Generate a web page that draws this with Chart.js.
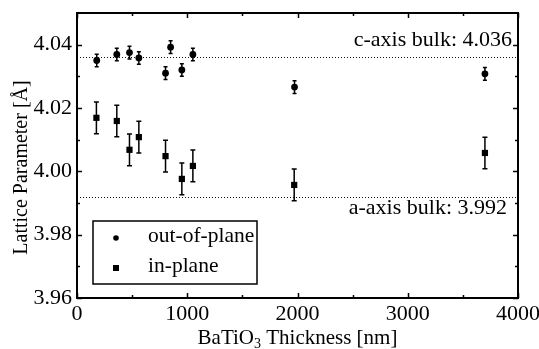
<!DOCTYPE html>
<html><head><meta charset="utf-8">
<script src="https://cdn.jsdelivr.net/npm/chart.js@4/dist/chart.umd.min.js"></script>
<style>html,body{margin:0;padding:0;background:#fff;}canvas{display:block;}</style>
</head><body>
<canvas id="c" width="539" height="349"></canvas>
<script>
// ---- data ----
const thicknessOut = [179, 361, 476, 561, 803, 849, 951, 1051, 1973, 3700];
const cOutOfPlane  = [4.0350, 4.0369, 4.0375, 4.0358, 4.0310, 4.0392, 4.0320, 4.0369, 4.0266, 4.0308];
const cErr         = [0.0020, 0.0020, 0.0020, 0.0020, 0.0020, 0.0020, 0.0020, 0.0020, 0.0020, 0.0020];
const thicknessIn  = [176, 361, 476, 561, 803, 951, 1051, 1970, 3700];
const aInPlane     = [4.0169, 4.0159, 4.0068, 4.0108, 4.0048, 3.9976, 4.0017, 3.9957, 4.0058];
const aErr         = [0.0050, 0.0050, 0.0050, 0.0050, 0.0050, 0.0050, 0.0050, 0.0050, 0.0050];
const bulkValues   = [4.036, 3.992];
const bulkLabels   = ['c-axis bulk: 4.036', 'a-axis bulk: 3.992'];
const seriesLabels = ['out-of-plane', 'in-plane'];
const xTickValues  = [0, 1000, 2000, 3000, 4000];
const xMinorTicks  = [500, 1500, 2500, 3500];
const yTickValues  = [3.96, 3.98, 4.00, 4.02, 4.04];
const yMinorTicks  = [3.97, 3.99, 4.01, 4.03];
const xTitleParts  = ['BaTiO', '3', ' Thickness [nm]'];
const yTitle       = 'Lattice Parameter [Å]';

const FONT = '"Liberation Serif", "Times New Roman", Times, serif';

const overlay = {
  id: 'overlay',
  beforeDatasetsDraw(chart) {
    const {ctx, chartArea: a, scales: {x, y}} = chart;
    ctx.save();
    // dotted bulk reference lines
    ctx.strokeStyle = '#111';
    ctx.lineWidth = 1;
    ctx.setLineDash([1, 2]);
    bulkValues.forEach(v => {
      const py = Math.round(y.getPixelForValue(v)) + 0.5;
      ctx.beginPath(); ctx.moveTo(a.left, py); ctx.lineTo(a.right, py); ctx.stroke();
    });
    ctx.setLineDash([]);
    // error bars
    ctx.strokeStyle = '#000';
    ctx.lineWidth = 1.5;
    const bars = (xs, ys, es, cap) => {
      xs.forEach((t, i) => {
        const px = x.getPixelForValue(t);
        const y1 = y.getPixelForValue(ys[i] + es[i]);
        const y2 = y.getPixelForValue(ys[i] - es[i]);
        ctx.beginPath();
        ctx.moveTo(px, y1); ctx.lineTo(px, y2);
        ctx.moveTo(px - cap, y1); ctx.lineTo(px + cap, y1);
        ctx.moveTo(px - cap, y2); ctx.lineTo(px + cap, y2);
        ctx.stroke();
      });
    };
    bars(thicknessOut, cOutOfPlane, cErr, 2);
    bars(thicknessIn, aInPlane, aErr, 2.5);
    ctx.restore();
  },
  afterDraw(chart) {
    const {ctx, chartArea: a, scales: {x, y}} = chart;
    ctx.save();
    // frame
    ctx.strokeStyle = '#000';
    ctx.lineWidth = 2;
    ctx.strokeRect(a.left, a.top, a.right - a.left, a.bottom - a.top);
    // inward ticks on all four sides
    ctx.lineWidth = 1.5;
    const xt = (vals, len) => vals.forEach(v => {
      const px = Math.round(x.getPixelForValue(v)) + 0.5;
      ctx.beginPath();
      ctx.moveTo(px, a.bottom); ctx.lineTo(px, a.bottom - len);
      ctx.moveTo(px, a.top); ctx.lineTo(px, a.top + len);
      ctx.stroke();
    });
    const yt = (vals, len) => vals.forEach(v => {
      const py = Math.round(y.getPixelForValue(v)) + 0.5;
      ctx.beginPath();
      ctx.moveTo(a.left, py); ctx.lineTo(a.left + len, py);
      ctx.moveTo(a.right, py); ctx.lineTo(a.right - len, py);
      ctx.stroke();
    });
    xt(xTickValues, 5); xt(xMinorTicks, 3);
    yt(yTickValues, 5); yt(yMinorTicks, 3);

    // bulk annotations
    ctx.fillStyle = '#000';
    ctx.font = '22px ' + FONT;
    ctx.textAlign = 'right';
    ctx.textBaseline = 'alphabetic';
    ctx.fillText(bulkLabels[0], a.right - 6, y.getPixelForValue(bulkValues[0]) - 11);
    ctx.fillText(bulkLabels[1], a.right - 11, y.getPixelForValue(bulkValues[1]) + 17);

    // legend box
    const lx = a.left + 16, ly = a.bottom - 77, lw = 164, lh = 63;
    ctx.lineWidth = 1.5;
    ctx.strokeRect(lx, ly, lw, lh);
    ctx.beginPath(); ctx.arc(lx + 23, ly + 17, 2.8, 0, Math.PI * 2); ctx.fill();
    ctx.fillRect(lx + 20, ly + 44, 6, 6);
    ctx.font = '21.5px ' + FONT;
    ctx.textAlign = 'left';
    ctx.fillText(seriesLabels[0], lx + 55, ly + 21);
    ctx.fillText(seriesLabels[1], lx + 55, ly + 51);

    // x axis title with subscript
    const big = '21px ' + FONT, small = '14px ' + FONT;
    ctx.font = big; const w0 = ctx.measureText(xTitleParts[0]).width, w2 = ctx.measureText(xTitleParts[2]).width;
    ctx.font = small; const w1 = ctx.measureText(xTitleParts[1]).width;
    let tx = (a.left + a.right) / 2 - (w0 + w1 + w2) / 2;
    const ty = 344;
    ctx.font = big; ctx.fillText(xTitleParts[0], tx, ty); tx += w0;
    ctx.font = small; ctx.fillText(xTitleParts[1], tx, ty + 4); tx += w1;
    ctx.font = big; ctx.fillText(xTitleParts[2], tx, ty);

    // y axis title
    ctx.translate(27, (a.top + a.bottom) / 2 + 12);
    ctx.rotate(-Math.PI / 2);
    ctx.textAlign = 'center';
    ctx.font = '20px ' + FONT;
    ctx.fillText(yTitle, 0, 0);
    ctx.restore();
  }
};

new Chart(document.getElementById('c'), {
  type: 'scatter',
  data: {
    datasets: [
      { label: seriesLabels[0], data: thicknessOut.map((t, i) => ({x: t, y: cOutOfPlane[i]})),
        pointStyle: 'circle', pointRadius: 3.4, backgroundColor: '#000', borderColor: '#000', borderWidth: 0 },
      { label: seriesLabels[1], data: thicknessIn.map((t, i) => ({x: t, y: aInPlane[i]})),
        pointStyle: 'rect', pointRadius: 4.4, backgroundColor: '#000', borderColor: '#000', borderWidth: 0 }
    ]
  },
  options: {
    responsive: false,
    animation: false,
    devicePixelRatio: 1,
    layout: {padding: {top: 13, right: 21, left: 0, bottom: 0}},
    plugins: {legend: {display: false}, tooltip: {enabled: false}},
    scales: {
      x: {
        type: 'linear', min: 0, max: 4000,
        afterBuildTicks: s => { s.ticks = xTickValues.map(v => ({value: v})); },
        afterFit: s => { s.height = 51; s.paddingLeft = 0; s.paddingRight = 0; },
        grid: {display: false, drawTicks: false, tickLength: 0}, border: {display: false},
        ticks: {font: {family: FONT, size: 22}, color: '#000', padding: 3, maxRotation: 0, autoSkip: false,
                callback: v => String(v)}
      },
      y: {
        type: 'linear', min: 3.96, max: 4.05,
        afterBuildTicks: s => { s.ticks = yTickValues.map(v => ({value: v})); },
        afterFit: s => { s.width = 77; s.paddingTop = 0; s.paddingBottom = 0; },
        grid: {display: false, drawTicks: false, tickLength: 0}, border: {display: false},
        ticks: {font: {family: FONT, size: 22}, color: '#000', padding: 5, autoSkip: false,
                callback: v => v.toFixed(2)}
      }
    }
  },
  plugins: [overlay]
});
</script>
</body></html>
